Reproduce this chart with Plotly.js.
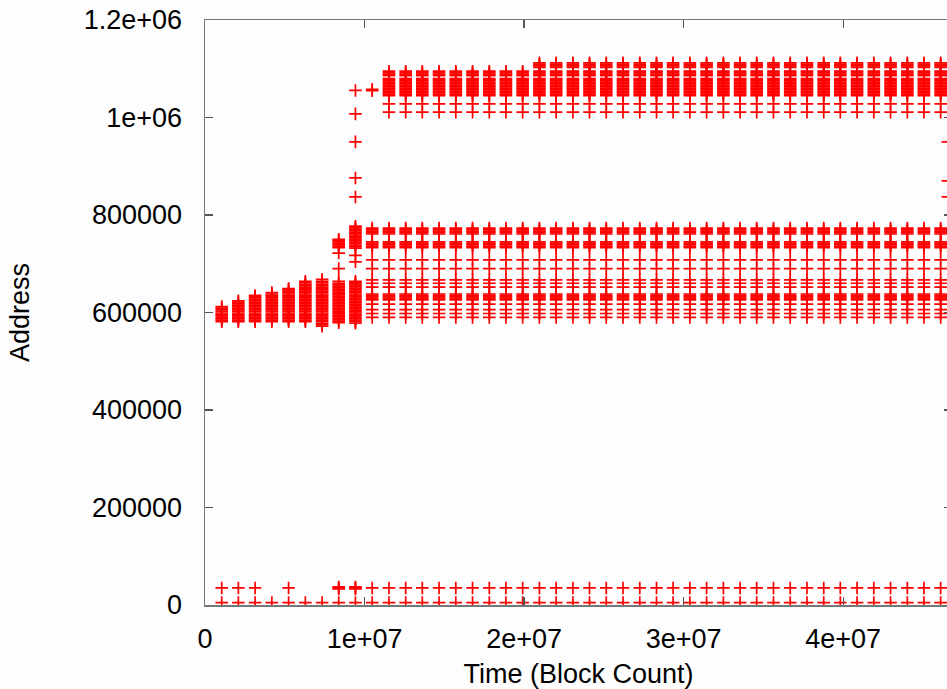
<!DOCTYPE html>
<html>
<head>
<meta charset="utf-8">
<script src="https://cdn.plot.ly/plotly-3.0.1.min.js"></script>
<style>
html,body{margin:0;padding:0;background:#fdfdfd;overflow:hidden;}
#chart{width:952px;height:689px;}
</style>
</head>
<body>
<div id="chart"></div>
<script>
// ---- Data ----
// Time (block count) of each sampled column
const columnTimes = [1.05e6, 2.09e6, 3.14e6, 4.19e6, 5.24e6, 6.29e6, 7.34e6, 8.38e6, 9.43e6,
  1.048e7, 1.153e7, 1.258e7, 1.362e7, 1.467e7, 1.572e7, 1.677e7, 1.782e7, 1.886e7, 1.991e7,
  2.096e7, 2.201e7, 2.306e7, 2.41e7, 2.515e7, 2.62e7, 2.725e7, 2.83e7, 2.934e7, 3.039e7,
  3.144e7, 3.249e7, 3.354e7, 3.458e7, 3.563e7, 3.668e7, 3.773e7, 3.878e7, 3.982e7, 4.087e7,
  4.192e7, 4.297e7, 4.402e7, 4.506e7, 4.611e7];

// Early phase (columns 1-7): stacked addresses, each column has its own top/bottom
const earlyLevels = [572000, 575000, 578000, 581000, 584000, 587000, 590000, 593000, 596000,
  599000, 603000, 606000, 609000, 612000, 615000, 618000, 621000, 624000, 627000, 630000,
  633000, 635000, 638000, 641000, 644000, 647000, 649000, 652000, 655000, 658000, 661000,
  664000, 668000];
const earlyTops    = [612000, 624000, 635000, 641000, 649000, 664000, 668000];
const earlyBottoms = [580000, 580000, 580000, 580000, 580000, 580000, 572000];

// Column 8 (transition)
const col8Addresses = [579000, 582000, 585000, 588000, 591000, 594000, 597000, 600000, 603000,
  606000, 609000, 612000, 615000, 618000, 621000, 624000, 627000, 630000, 633000, 636000,
  639000, 642000, 645000, 648000, 651000, 654000, 657000, 660000, 664000, 690000, 722000,
  733000, 736000, 739000, 742000, 745000, 748000, 750000, 33000, 35000, 37000, 5000];

// Column 9 (transition, jump to high addresses)
const col9Addresses = [578000, 581000, 584000, 587000, 590000, 593000, 596000, 599000, 602000,
  605000, 608000, 611000, 614000, 617000, 620000, 623000, 626000, 629000, 632000, 635000,
  638000, 641000, 644000, 647000, 650000, 653000, 656000, 659000, 662000, 664000, 704000,
  717000, 732000, 735000, 738000, 741000, 744000, 747000, 750000, 753000, 756000, 759000,
  762000, 765000, 768000, 771000, 774000, 777000, 837000, 876000, 950000, 1007500, 1055500,
  33000, 35000, 37000, 5000];

// Column 10: steady middle band plus a lone high address
const col10Extra = [1055000, 1058000];

// Steady middle band (columns 10-44)
const midBand = [590000, 598000, 606000, 617000, 626000, 629000, 632000, 635000, 638000,
  652000, 660000, 667000, 690000, 708000, 733000, 736000, 739000, 742000, 745000,
  761000, 764000, 767000, 770000, 773000];

// High band (columns 11-44)
const highBand = [1011000, 1028000, 1045000, 1048000, 1051000, 1054000, 1057000, 1060000,
  1063000, 1066000, 1069000, 1072000, 1075000, 1078000, 1080000, 1086000, 1089000, 1092000,
  1095000];
// Extra top block (columns 20-44)
const highTop = [1103000, 1106000, 1109000, 1112000];

// Low addresses
const lowAddress = 5000;
const lowAddress2 = 35000;
const lowAddress2Early = [1, 2, 3, 5]; // early columns (1-based) that have the 35000 point

// Partial points at the right edge
const edgeTime = 4.656e7;
const edgeAddresses = [950000, 870000, 837000];

// Axis ticks
const xTickVals = [0, 1e7, 2e7, 3e7, 4e7];
const xTickText = ['0', '1e+07', '2e+07', '3e+07', '4e+07'];
const yTickVals = [0, 200000, 400000, 600000, 800000, 1000000, 1200000];
const yTickText = ['0', '200000', '400000', '600000', '800000', '1e+06', '1.2e+06'];

// ---- Build point lists ----
const xs = [], ys = [];
function add(t, arr) { arr.forEach(v => { xs.push(t); ys.push(v); }); }

columnTimes.forEach((t, i) => {
  const k = i + 1;
  if (k <= 7) {
    add(t, earlyLevels.filter(v => v >= earlyBottoms[i] && v <= earlyTops[i]));
    add(t, [lowAddress]);
    if (lowAddress2Early.includes(k)) add(t, [lowAddress2]);
  } else if (k === 8) {
    add(t, col8Addresses);
  } else if (k === 9) {
    add(t, col9Addresses);
  } else {
    add(t, midBand);
    add(t, [lowAddress, lowAddress2]);
    if (k === 10) add(t, col10Extra);
    if (k >= 11) add(t, highBand);
    if (k >= 20) add(t, highTop);
  }
});
add(edgeTime, edgeAddresses);

const trace = {
  x: xs, y: ys, type: 'scatter', mode: 'markers',
  marker: { symbol: 'cross-thin', size: 9, color: '#ff0000',
            line: { color: '#ff0000', width: 1.7 } },
  hoverinfo: 'x+y', showlegend: false
};

const axisFont = { family: 'Liberation Sans, Arial, sans-serif', size: 27, color: '#000' };

const layout = {
  width: 952, height: 689,
  margin: { l: 205, r: 0, t: 20, b: 84, pad: 0 },
  paper_bgcolor: '#fdfdfd', plot_bgcolor: '#fdfdfd',
  font: axisFont,
  xaxis: {
    range: [0, 4.682e7], autorange: false,
    tickvals: xTickVals, ticktext: xTickText,
    ticks: 'inside', ticklen: 8, tickwidth: 1.3, tickcolor: '#555',
    showline: true, linecolor: '#777', linewidth: 1.5, mirror: 'ticks',
    showgrid: false, zeroline: false,
    tickfont: axisFont, ticklabelstandoff: 9,
    title: { text: 'Time (Block Count)', font: axisFont, standoff: 12 }
  },
  yaxis: {
    range: [0, 1.2e6], autorange: false,
    tickvals: yTickVals, ticktext: yTickText,
    ticks: 'inside', ticklen: 8, tickwidth: 1.3, tickcolor: '#555',
    showline: true, linecolor: '#777', linewidth: 1.5, mirror: 'ticks',
    showgrid: false, zeroline: false,
    tickfont: axisFont, ticklabelstandoff: 16,
    title: { text: 'Address', font: axisFont, standoff: 46 }
  }
};

Plotly.newPlot('chart', [trace], layout, { displayModeBar: false, staticPlot: true });
</script>
</body>
</html>
